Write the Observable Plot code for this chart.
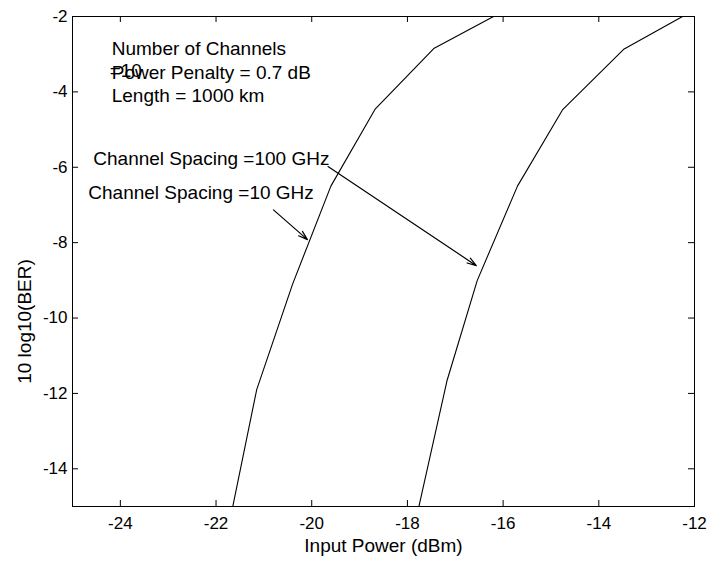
<!DOCTYPE html>
<html>
<head>
<meta charset="utf-8">
<script src="https://cdn.jsdelivr.net/npm/d3@7"></script>
<script src="https://cdn.jsdelivr.net/npm/@observablehq/plot@0.6"></script>
<style>
  html, body { margin: 0; padding: 0; background: white; }
</style>
</head>
<body>
<div id="chart"></div>
<script>
// Curve data: input power (dBm) vs 10 log10(BER)
const power10GHz  = [-21.65, -21.15, -20.4, -19.6, -18.67, -17.45, -16.2];
const ber10GHz    = [-15, -11.9, -9.1, -6.5, -4.45, -2.85, -2];
const power100GHz = [-17.76, -17.17, -16.54, -15.7, -14.76, -13.47, -12.25];
const ber100GHz   = [-15, -11.65, -9.0, -6.5, -4.48, -2.86, -2];

// Axis ticks
const xTicks = [-24, -22, -20, -18, -16, -14, -12];
const yTicks = [-14, -12, -10, -8, -6, -4, -2];

// Annotation texts
const infoLines = ["Number of Channels", "Power Penalty = 0.7 dB", "Length = 1000 km"];
const infoX = [-24.18, -24.18, -24.18];
const infoY = [-2.87, -3.49, -4.11];
const overText = "=10";
const overX = -23.55;
const overY = -3.45;
const spacingLabels = ["Channel Spacing =100 GHz", "Channel Spacing =10 GHz"];
const spacingX = [-24.565, -24.67];
const spacingY = [-5.79, -6.67];
// arrows: from label to curve
const arrowX1 = [-19.66, -20.8];
const arrowY1 = [-5.98, -7.13];
const arrowX2 = [-16.56, -20.09];
const arrowY2 = [-8.61, -7.92];

const W = 709, H = 564;
const mL = 72, mR = 15, mT = 16, mB = 58;
const innerW = W - mL - mR, innerH = H - mT - mB;

const curve10 = power10GHz.map((x, i) => ({x, y: ber10GHz[i]}));
const curve100 = power100GHz.map((x, i) => ({x, y: ber100GHz[i]}));
const info = infoLines.map((t, i) => ({t, x: infoX[i], y: infoY[i]}));
const spacing = spacingLabels.map((t, i) => ({t, x: spacingX[i], y: spacingY[i]}));
const arrows = arrowX1.map((x1, i) => ({x1, y1: arrowY1[i], x2: arrowX2[i], y2: arrowY2[i]}));

const fmt = d => String(d);

const chart = Plot.plot({
  width: W, height: H,
  marginLeft: mL, marginRight: mR, marginTop: mT, marginBottom: mB,
  x: {domain: [-25, -12]},
  y: {domain: [-15, -2]},
  style: {fontFamily: "'Liberation Sans', Arial, sans-serif", fontSize: "17px", color: "black", background: "white"},
  marks: [
    Plot.frame({stroke: "black", strokeWidth: 1}),
    Plot.axisX(xTicks, {tickSize: 0, tickPadding: 10, label: null, fontSize: 17, tickFormat: fmt}),
    Plot.axisY(yTicks, {tickSize: 0, tickPadding: 5, label: null, fontSize: 17, tickFormat: fmt}),
    // inward ticks on all four sides
    Plot.tickX(xTicks, {x: d => d, insetTop: innerH - 6, stroke: "black"}),
    Plot.tickX(xTicks, {x: d => d, insetBottom: innerH - 6, stroke: "black"}),
    Plot.tickY(yTicks, {y: d => d, insetRight: innerW - 6, stroke: "black"}),
    Plot.tickY(yTicks, {y: d => d, insetLeft: innerW - 6, stroke: "black"}),
    Plot.line(curve10, {x: "x", y: "y", stroke: "black", strokeWidth: 1.1, clip: true}),
    Plot.line(curve100, {x: "x", y: "y", stroke: "black", strokeWidth: 1.1, clip: true}),
    Plot.arrow(arrows, {x1: "x1", y1: "y1", x2: "x2", y2: "y2", stroke: "black", strokeWidth: 1.2, headLength: 12, headAngle: 35}),
    Plot.text(info, {x: "x", y: "y", text: "t", textAnchor: "start", fontSize: 19}),
    Plot.text([overText], {x: () => overX, y: () => overY, text: d => d, textAnchor: "end", fontSize: 19}),
    Plot.text(spacing, {x: "x", y: "y", text: "t", textAnchor: "start", fontSize: 19}),
    Plot.text(["10 log10(BER)"], {frameAnchor: "left", textAnchor: "middle", lineAnchor: "middle", dx: -48, dy: 60, rotate: -90, fontSize: 19}),
    Plot.text(["Input Power (dBm)"], {frameAnchor: "bottom", textAnchor: "middle", lineAnchor: "middle", dy: 39, fontSize: 19})
  ]
});
document.getElementById("chart").appendChild(chart);
</script>
</body>
</html>
